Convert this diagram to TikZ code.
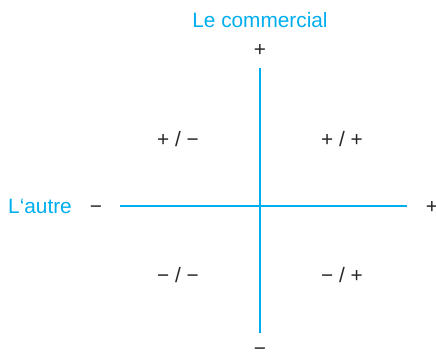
\documentclass[tikz,border=0pt]{standalone}
\usepackage{fontspec}
\setmainfont{Liberation Sans}
\definecolor{colAxis}{RGB}{0,174,239}
\definecolor{colTxt}{RGB}{40,38,38}

\begin{document}
\begin{tikzpicture}[
    font=\fontsize{14.8}{17}\selectfont,
    axis/.style={colAxis, line width=2.1pt},
    axislabel/.style={text=colAxis, inner sep=1pt},
    sign/.style={text=colTxt, inner sep=1pt},
    quad/.style={text=colTxt, inner sep=1pt},
  ]

  \useasboundingbox (-6.5,-3.825) rectangle (4.4,5.15);

  % ---- axis ends ----------------------------------------------------------
  \coordinate (top)    at (0,3.45);
  \coordinate (bottom) at (0,-3.175);
  \coordinate (left)   at (-3.5,0);
  \coordinate (right)  at (3.675,0);

  \draw[axis] (top) -- (bottom);
  \draw[axis] (left) -- (right);

  % ---- axis names ---------------------------------------------------------
  \node[axislabel] (com)   at (0,4.65)     {Le commercial};
  \node[axislabel] (autre) at (-5.5,0)     {L‘autre};

  % ---- signs at the ends --------------------------------------------------
  \node[sign] (plusT)  at (0,3.9)      {+};
  \node[sign] (minusB) at (0,-3.64)    {−};
  \node[sign] (minusL) at (-4.1,-0.08) {−};
  \node[sign] (plusR)  at (4.3,-0.03)  {+};

  % ---- quadrants ----------------------------------------------------------
  \node[quad] (q1) at (-2.05,1.675)  {+ / −};
  \node[quad] (q2) at (2.05,1.675)   {+ / +};
  \node[quad] (q3) at (-2.05,-1.725) {− / −};
  \node[quad] (q4) at (2.05,-1.725)  {− / +};

\end{tikzpicture}
\end{document}
